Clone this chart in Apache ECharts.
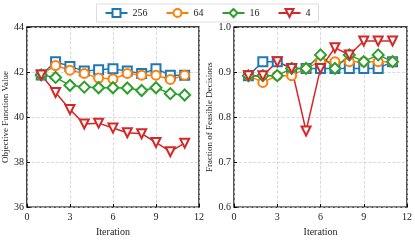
<!DOCTYPE html>
<html><head><meta charset="utf-8">
<script src="https://cdn.jsdelivr.net/npm/echarts@6/dist/echarts.min.js"></script>
<style>html,body{margin:0;padding:0;background:#fff}#c{width:415px;height:242px}</style>
</head><body><div id="c"></div>
<script>
const iterations = [1,2,3,4,5,6,7,8,9,10,11];
const seriesNames = ['256','64','16','4'];
const objective = {
  '256': [41.87,42.46,42.25,42.04,42.10,42.15,42.04,41.93,42.15,41.86,41.86],
  '64':  [41.87,42.29,42.08,41.94,41.73,41.69,41.94,41.86,41.86,41.67,41.86],
  '16':  [41.87,41.76,41.41,41.33,41.30,41.30,41.29,41.18,41.30,41.04,40.98],
  '4':   [41.87,41.09,40.34,39.69,39.73,39.51,39.30,39.26,38.87,38.46,38.84]
};
const feasible = {
  '256': [0.892,0.923,0.923,0.908,0.908,0.908,0.908,0.908,0.908,0.908,0.923],
  '64':  [0.892,0.877,0.892,0.892,0.908,0.923,0.923,0.923,0.923,0.923,0.923],
  '16':  [0.892,0.892,0.892,0.908,0.908,0.938,0.908,0.938,0.923,0.938,0.923],
  '4':   [0.892,0.892,0.923,0.908,0.769,0.908,0.954,0.938,0.969,0.969,0.969]
};
const colors = ['#1f77b4','#ff7f0e','#2ca02c','#d62728'];
const symbols = ['emptyRect','emptyCircle','emptyDiamond','emptyTriangle'];
const rotates = [0,0,0,180];
const font = 'Liberation Serif';

const chart = echarts.init(document.getElementById('c'), null, {renderer:'canvas'});
const series = [];
seriesNames.forEach((n,i)=>{
  const base = {
    name:n, type:'line', color:colors[i], symbol:symbols[i], symbolRotate:rotates[i],
    symbolSize: i===2 ? 11 : 9, showAllSymbol:true,
    lineStyle:{width:1.5,color:colors[i]},
    itemStyle:{color:colors[i],borderWidth:1.5},
    animation:false
  };
  series.push(Object.assign({}, base, {xAxisIndex:0,yAxisIndex:0,
    data: iterations.map((x,k)=>[x,objective[n][k]])}));
  series.push(Object.assign({}, base, {xAxisIndex:1,yAxisIndex:1,
    data: iterations.map((x,k)=>[x,feasible[n][k]])}));
});
const splitLine = {show:true,lineStyle:{color:'#d0d0d0',type:'dashed',width:0.8}};
const tick = {show:true,inside:true,length:3,lineStyle:{color:'#000'}};
const xAxisCommon = {type:'value',min:0,max:12,interval:3,axisLine:{show:false},axisTick:tick,splitLine:splitLine,
  axisLabel:{fontFamily:font,fontSize:10,color:'#222',margin:5},
  name:'Iteration',nameLocation:'middle',nameGap:16,nameTextStyle:{fontFamily:font,fontSize:10,color:'#222'}};
chart.setOption({
  animation:false,
  legend:{top:4,left:'center',data:seriesNames,itemWidth:22,itemHeight:10,itemGap:18,
    textStyle:{fontFamily:font,fontSize:10,color:'#222'},
    borderColor:'#ddd',borderWidth:1,padding:[4,8],backgroundColor:'#fff'},
  grid:[
    {left:25,right:216,top:27,bottom:24,show:true,borderColor:'#000',borderWidth:1.3,backgroundColor:'transparent'},
    {left:234,right:8,top:27,bottom:24,show:true,borderColor:'#000',borderWidth:1.3,backgroundColor:'transparent'}
  ],
  xAxis:[Object.assign({gridIndex:0},xAxisCommon),Object.assign({gridIndex:1},xAxisCommon)],
  yAxis:[
    {gridIndex:0,type:'value',min:36,max:44,interval:2,axisLine:{show:false},axisTick:tick,splitLine:splitLine,
     axisLabel:{fontFamily:font,fontSize:10,color:'#222',margin:3},
     name:'Objective Function Value',nameLocation:'middle',nameGap:12,nameTextStyle:{fontFamily:font,fontSize:9,color:'#222'}},
    {gridIndex:1,type:'value',min:0.6,max:1.0,interval:0.1,axisLine:{show:false},axisTick:tick,splitLine:splitLine,
     axisLabel:{fontFamily:font,fontSize:10,color:'#222',margin:3,formatter:v=>v.toFixed(1)},
     name:'Fraction of Feasible Decisions',nameLocation:'middle',nameGap:18,nameTextStyle:{fontFamily:font,fontSize:9,color:'#222'}}
  ],
  series:series
});
</script></body></html>
